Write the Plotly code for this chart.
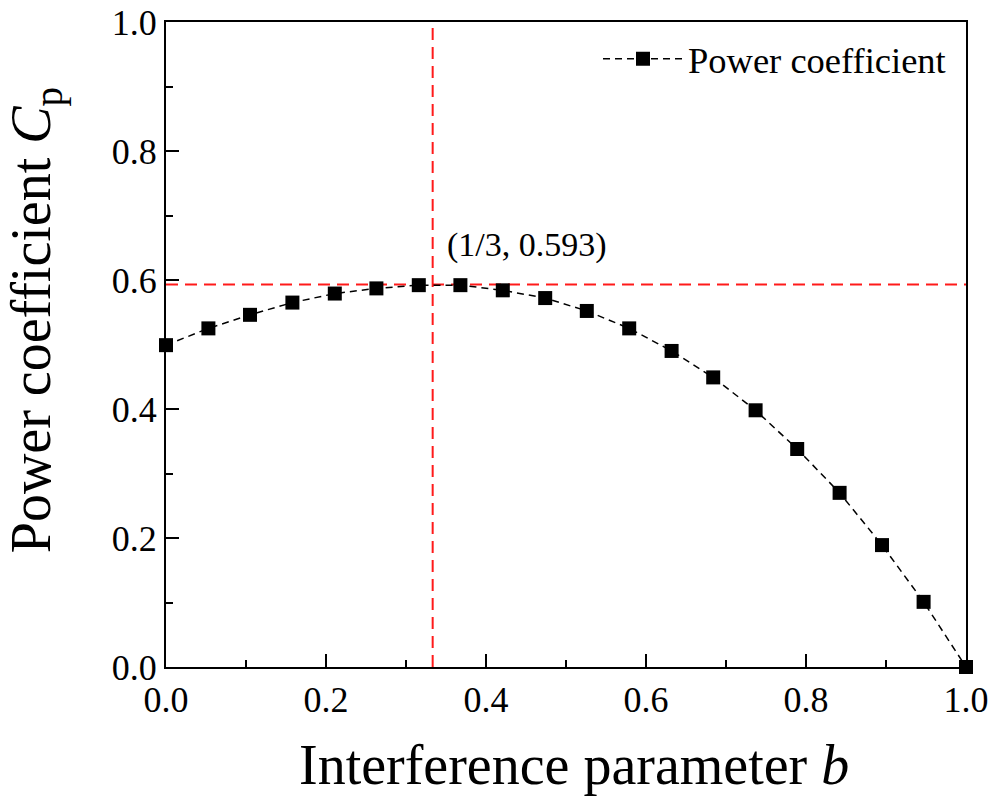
import plotly.graph_objects as go

# Data
b_values = [0.000, 0.053, 0.105, 0.158, 0.211, 0.263, 0.316, 0.368, 0.421, 0.474,
            0.526, 0.579, 0.632, 0.684, 0.737, 0.789, 0.842, 0.895, 0.947, 1.000]
cp_values = [0.499, 0.525, 0.546, 0.565, 0.579, 0.587, 0.592, 0.592, 0.584, 0.572,
             0.552, 0.525, 0.490, 0.449, 0.398, 0.338, 0.270, 0.189, 0.101, 0.000]
opt_b = 1 / 3
opt_cp = 0.593
annotation_text = "(1/3, 0.593)"
x_title = "Interference parameter <i>b</i>"
y_title = "Power coefficient <i>C</i><sub>p</sub>"
x_ticks = [0.0, 0.2, 0.4, 0.6, 0.8, 1.0]
y_ticks = [0.0, 0.2, 0.4, 0.6, 0.8, 1.0]

FONT = "Liberation Serif"

fig = go.Figure()

# Red dashed reference lines
fig.add_trace(go.Scatter(x=[0, 1], y=[opt_cp, opt_cp], mode="lines",
                         line=dict(color="#ff1a1a", width=2, dash="12px,7px"),
                         showlegend=False, hoverinfo="skip"))
fig.add_trace(go.Scatter(x=[opt_b, opt_b], y=[0, 1], mode="lines",
                         line=dict(color="#ff1a1a", width=2, dash="12px,7px"),
                         showlegend=False, hoverinfo="skip"))

fig.add_trace(go.Scatter(x=b_values, y=cp_values, mode="lines+markers",
                         name="Power coefficient",
                         line=dict(color="black", width=1.5, dash="7px,5px"),
                         marker=dict(symbol="square", size=14, color="black"),
                         cliponaxis=False))

fig.add_annotation(x=0.349, y=0.654, xref="x", yref="y", text=annotation_text,
                   showarrow=False, xanchor="left", yanchor="middle",
                   font=dict(family=FONT, size=34, color="black"))

# Axis titles as annotations for precise placement
fig.add_annotation(x=0.51, y=-0.101, xref="paper", yref="paper", text=x_title,
                   showarrow=False, xanchor="center", yanchor="top",
                   font=dict(family=FONT, size=56, color="black"))
fig.add_annotation(x=-0.163, y=0.537, xref="paper", yref="paper", text=y_title,
                   showarrow=False, xanchor="center", yanchor="middle", textangle=-90,
                   font=dict(family=FONT, size=56, color="black"))

axis_common = dict(showline=True, linecolor="black", linewidth=2, mirror=True,
                   ticks="inside", ticklen=13, tickwidth=2, tickcolor="black",
                   showgrid=False, zeroline=False, automargin=False,
                   ticklabeloverflow="allow",
                   tickfont=dict(family=FONT, size=36, color="black"))

fig.update_xaxes(range=[0, 1], tickvals=x_ticks, ticktext=[f"{v:.1f}" for v in x_ticks],
                 minor=dict(ticks="inside", ticklen=7, tickwidth=2, tickcolor="black",
                            dtick=0.1, tick0=0, showgrid=False),
                 **axis_common)
fig.update_yaxes(range=[0, 1], tickvals=y_ticks, ticktext=[f"{v:.1f}" for v in y_ticks],
                 minor=dict(ticks="inside", ticklen=7, tickwidth=2, tickcolor="black",
                            dtick=0.1, tick0=0, showgrid=False),
                 **axis_common)

fig.update_layout(
    width=990, height=796,
    margin=dict(l=166, r=24, t=22, b=129),
    paper_bgcolor="white", plot_bgcolor="white",
    showlegend=True,
    legend=dict(x=0.54, y=0.99, xanchor="left", yanchor="top",
                font=dict(family=FONT, size=36.5, color="black"),
                bgcolor="rgba(0,0,0,0)", itemwidth=80),
)

fig.write_html("out.html",
               config={"displayModeBar": False},
               post_script="document.body.style.margin='0px';document.body.style.overflow='hidden';")
